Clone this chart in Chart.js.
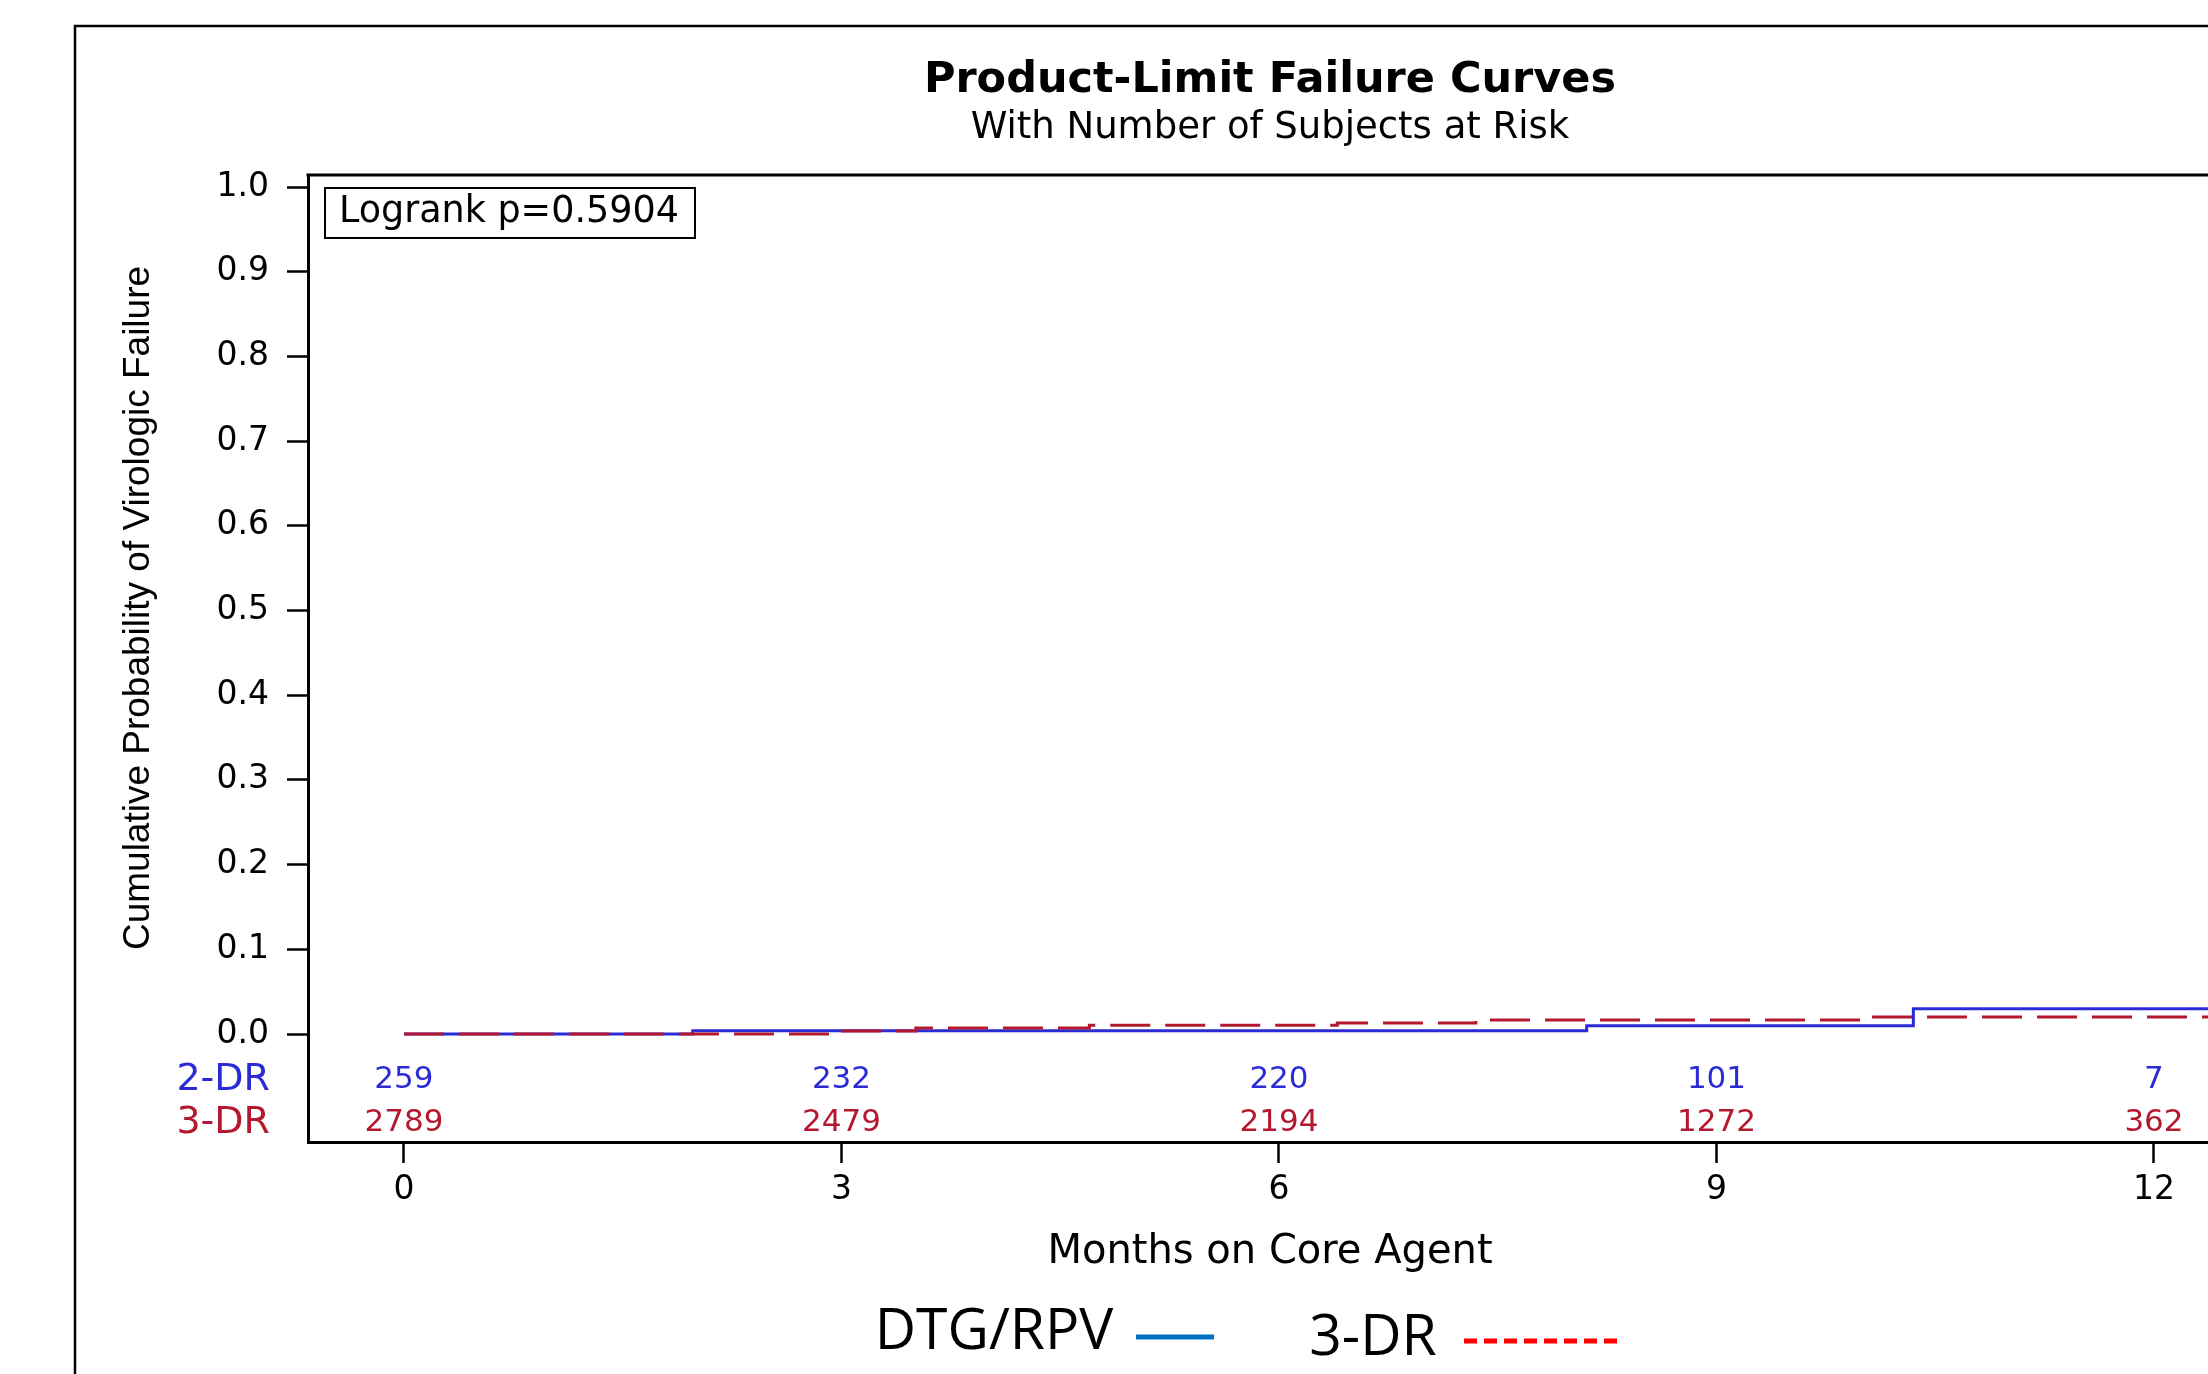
<!DOCTYPE html>
<html><head><meta charset="utf-8">
<script src="https://cdn.jsdelivr.net/npm/chart.js@4.4.0/dist/chart.umd.min.js"></script>
<style>
html,body{margin:0;padding:0;background:#fff;overflow:hidden;width:2208px;height:1374px;}
#wrap{position:absolute;left:0;top:0;width:2260px;height:1374px;}
canvas{display:block;}
</style></head><body>
<div id="wrap"><canvas id="c" width="2260" height="1374"></canvas></div>
<script>
// ---- text ----
const chartTitle = 'Product-Limit Failure Curves';
const chartSubtitle = 'With Number of Subjects at Risk';
const xAxisTitle = 'Months on Core Agent';
const yAxisTitle = 'Cumulative Probability of Virologic Failure';
const logrankText = 'Logrank p=0.5904';
const groupLabels = ['2-DR', '3-DR'];
const legendLabels = ['DTG/RPV', '3-DR'];

// ---- ticks ----
const xTickValues = [0, 3, 6, 9, 12];
const yTickValues = [0, 0.1, 0.2, 0.3, 0.4, 0.5, 0.6, 0.7, 0.8, 0.9, 1.0];

// ---- step curves (months, cumulative failure) ----
const dr2Times   = [0, 1.98, 8.11, 10.35, 12.5];
const dr2Failure = [0, 0.0039, 0.0098, 0.0298, 0.0298];
const dr3Times   = [0, 2.98, 3.51, 4.70, 6.40, 7.35, 10.05, 12.5];
const dr3Failure = [0, 0.0035, 0.0071, 0.0103, 0.0130, 0.0165, 0.0200, 0.0200];

// ---- number at risk ----
const atRiskTimes = [0, 3, 6, 9, 12];
const dr2AtRisk = [259, 232, 220, 101, 7];
const dr3AtRisk = [2789, 2479, 2194, 1272, 362];

const BLUE = '#2b2bd6';
const RED = '#b3182f';
const SAS_FONT = 'DejaVu Sans';

const decor = {
  id: 'decor',
  beforeDraw(chart) {
    const ctx = chart.ctx;
    ctx.save();
    ctx.fillStyle = '#fff';
    ctx.fillRect(0, 0, chart.width, chart.height);
    ctx.restore();
  },
  afterDraw(chart) {
    const ctx = chart.ctx;
    const a = chart.chartArea;
    const xs = chart.scales.x;
    ctx.save();
    // outer frame
    ctx.strokeStyle = '#000';
    ctx.lineWidth = 2.5;
    ctx.strokeRect(75, 26, 3000, 3000);
    // plot frame (top + right)
    ctx.lineWidth = 3;
    ctx.beginPath();
    ctx.moveTo(a.left - 1.5, a.top);
    ctx.lineTo(a.right, a.top);
    ctx.lineTo(a.right, a.bottom);
    ctx.stroke();

    // titles
    ctx.fillStyle = '#000';
    ctx.textAlign = 'center';
    ctx.textBaseline = 'middle';
    ctx.font = 'bold 43px "' + SAS_FONT + '"';
    ctx.fillText(chartTitle, 1270, 81);
    ctx.font = '37px "' + SAS_FONT + '"';
    ctx.fillText(chartSubtitle, 1270, 128);

    // y axis title
    ctx.save();
    ctx.translate(139, 608);
    ctx.rotate(-Math.PI / 2);
    ctx.font = '37px "Liberation Sans"';
    ctx.fillText(yAxisTitle, 0, 0);
    ctx.restore();

    // logrank box
    ctx.lineWidth = 2;
    ctx.strokeRect(325, 188, 370, 50);
    ctx.textAlign = 'left';
    ctx.font = '36.5px "' + SAS_FONT + '"';
    ctx.fillText(logrankText, 339, 213);

    // at risk table
    const rowY = [1080, 1123];
    const rows = [dr2AtRisk, dr3AtRisk];
    const cols = [BLUE, RED];
    for (let r = 0; r < 2; r++) {
      ctx.fillStyle = cols[r];
      ctx.textAlign = 'right';
      ctx.font = '38px "' + SAS_FONT + '"';
      ctx.fillText(groupLabels[r], 270, rowY[r]);
      ctx.textAlign = 'center';
      ctx.font = '31px "' + SAS_FONT + '"';
      rows[r].forEach((n, i) => {
        ctx.fillText(String(n), xs.getPixelForValue(atRiskTimes[i]), rowY[r]);
      });
    }

    // legend
    ctx.fillStyle = '#000';
    ctx.textAlign = 'center';
    ctx.font = '57px "Open Sans"';
    ctx.fillText(legendLabels[0], 994, 1333);
    ctx.fillText(legendLabels[1], 1373, 1339);
    ctx.lineWidth = 5;
    ctx.strokeStyle = '#0070C0';
    ctx.beginPath();
    ctx.moveTo(1136, 1337);
    ctx.lineTo(1214, 1337);
    ctx.stroke();
    ctx.strokeStyle = '#FF0000';
    ctx.setLineDash([13, 7]);
    ctx.beginPath();
    ctx.moveTo(1464, 1341);
    ctx.lineTo(1624, 1341);
    ctx.stroke();
    ctx.restore();
  }
};

const ctx = document.getElementById('c').getContext('2d');
new Chart(ctx, {
  type: 'line',
  data: {
    datasets: [
      {
        label: legendLabels[1],
        data: dr3Times.map((t, i) => ({x: t, y: dr3Failure[i]})),
        borderColor: RED,
        borderWidth: 3,
        borderDash: [40, 15],
        stepped: true,
        pointRadius: 0,
        fill: false,
        order: 1
      },
      {
        label: legendLabels[0],
        data: dr2Times.map((t, i) => ({x: t, y: dr2Failure[i]})),
        borderColor: BLUE,
        borderWidth: 3,
        stepped: true,
        pointRadius: 0,
        fill: false,
        order: 2
      }
    ]
  },
  options: {
    responsive: false,
    animation: false,
    devicePixelRatio: 1,
    layout: {padding: {top: 175, right: 28, bottom: 0, left: 0}},
    plugins: {
      legend: {display: false},
      tooltip: {enabled: false},
      title: {display: false}
    },
    scales: {
      x: {
        type: 'linear',
        min: -0.658,
        max: 12.535,
        afterBuildTicks: s => { s.ticks = xTickValues.map(v => ({value: v})); },
        afterFit: s => { s.height = 1374 - 1142; },
        grid: {display: true, drawOnChartArea: false, drawTicks: true, tickLength: 21, tickWidth: 2.5, tickColor: '#000'},
        border: {display: true, color: '#000', width: 3},
        ticks: {color: '#000', font: {family: SAS_FONT, size: 33}, padding: 8, maxRotation: 0, autoSkip: false,
          callback: v => String(v)},
        title: {display: true, text: xAxisTitle, color: '#000', font: {family: SAS_FONT, size: 40},
          padding: {top: 0, bottom: 97}}
      },
      y: {
        type: 'linear',
        min: -0.1275,
        max: 1.0142,
        afterBuildTicks: s => { s.ticks = yTickValues.map(v => ({value: v})); },
        afterFit: s => { s.width = 308; },
        grid: {display: true, drawOnChartArea: false, drawTicks: true, tickLength: 21, tickWidth: 2.5, tickColor: '#000'},
        border: {display: true, color: '#000', width: 3},
        ticks: {color: '#000', font: {family: SAS_FONT, size: 33}, padding: 18, autoSkip: false,
          callback: v => Number(v).toFixed(1)}
      }
    }
  },
  plugins: [decor]
});
</script>
</body></html>
